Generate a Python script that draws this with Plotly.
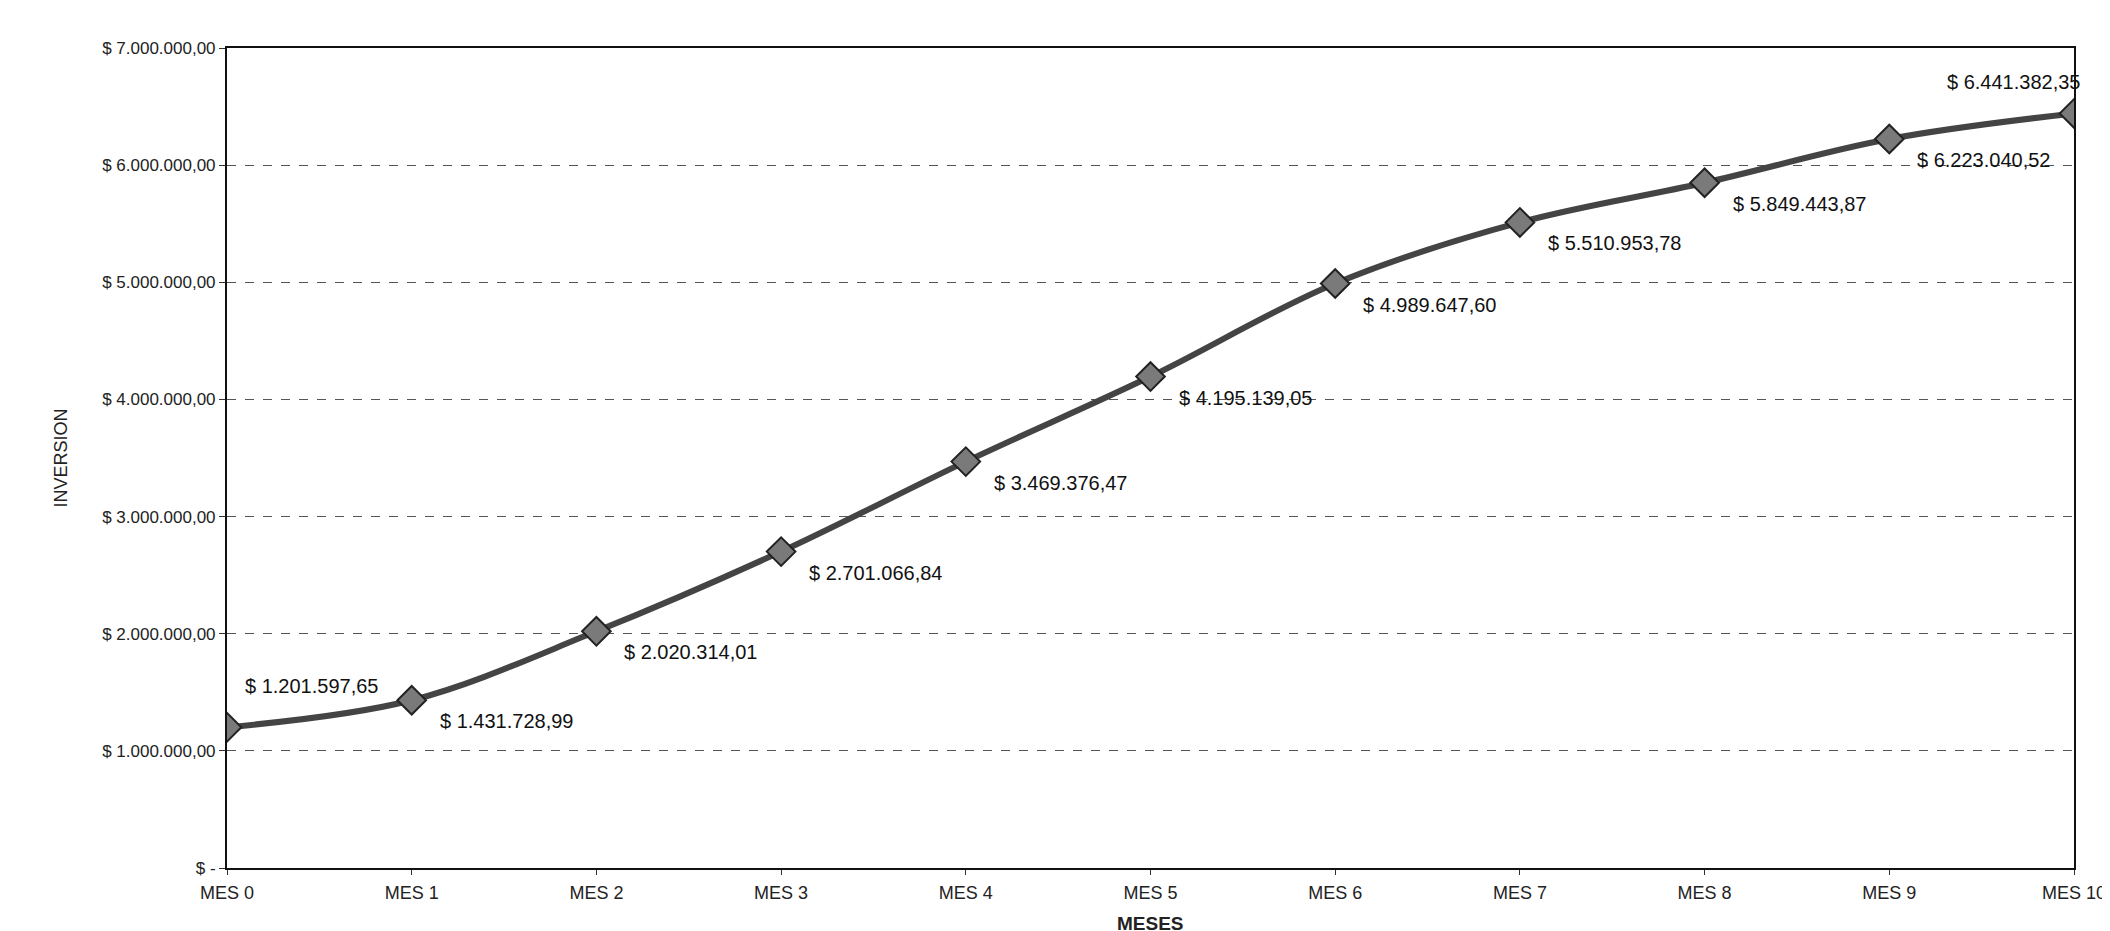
import plotly.graph_objects as go

meses = ["MES 0", "MES 1", "MES 2", "MES 3", "MES 4", "MES 5",
         "MES 6", "MES 7", "MES 8", "MES 9", "MES 10"]
inversion = [1201597.65, 1431728.99, 2020314.01, 2701066.84, 3469376.47, 4195139.05,
             4989647.60, 5510953.78, 5849443.87, 6223040.52, 6441382.35]
etiquetas = ["$ 1.201.597,65", "$ 1.431.728,99", "$ 2.020.314,01", "$ 2.701.066,84",
             "$ 3.469.376,47", "$ 4.195.139,05", "$ 4.989.647,60", "$ 5.510.953,78",
             "$ 5.849.443,87", "$ 6.223.040,52", "$ 6.441.382,35"]
y_ticks = [0, 1000000, 2000000, 3000000, 4000000, 5000000, 6000000, 7000000]
y_ticktext = ["$ -", "$ 1.000.000,00", "$ 2.000.000,00", "$ 3.000.000,00",
              "$ 4.000.000,00", "$ 5.000.000,00", "$ 6.000.000,00", "$ 7.000.000,00"]

x = list(range(len(meses)))

fig = go.Figure()
fig.add_trace(go.Scatter(
    x=x, y=inversion, mode="lines+markers", line_shape="spline",
    line=dict(color="#444444", width=6),
    marker=dict(symbol="diamond", size=22, color="#7a7a7a",
                line=dict(color="#222222", width=2)),
    showlegend=False, hoverinfo="skip",
))

# label placement per point (above-right for first, above-left for last)
anns = []
for i, (xv, yv, t) in enumerate(zip(x, inversion, etiquetas)):
    if i == 0:
        a = dict(xanchor="left", yanchor="bottom", xshift=16, yshift=28)
    elif i == len(x) - 1:
        a = dict(xanchor="right", yanchor="bottom", xshift=8, yshift=18)
    else:
        a = dict(xanchor="left", yanchor="top", xshift=26, yshift=-8)
    anns.append(dict(x=xv, y=yv, xref="x", yref="y", text=t, showarrow=False,
                     font=dict(family="Liberation Sans", size=20, color="#111"), **a))

anns.append(dict(xref="paper", yref="paper", x=0.5, y=-0.052, text="<b>MESES</b>",
                 showarrow=False, xanchor="center", yanchor="top",
                 font=dict(family="Liberation Sans", size=19, color="#222")))

fig.update_layout(
    width=2110, height=931,
    margin=dict(l=219, r=40, t=40, b=71),
    paper_bgcolor="white", plot_bgcolor="white",
    font=dict(family="Liberation Sans", color="#222"),
    annotations=anns,
    xaxis=dict(
        tickmode="array", tickvals=x, ticktext=meses, range=[0, 10],
        showgrid=False, showline=True, linecolor="#111", linewidth=2,
        ticks="outside", ticklen=5, tickcolor="#333",
        tickfont=dict(size=18), ticklabelstandoff=2,
        mirror=True, zeroline=False,
    ),
    yaxis=dict(
        tickmode="array", tickvals=y_ticks, ticktext=y_ticktext, range=[0, 7000000],
        showgrid=True, gridcolor="#555", gridwidth=1, griddash="dash",
        showline=True, linecolor="#111", linewidth=2, mirror=True,
        ticks="outside", ticklen=6, tickcolor="#333",
        tickfont=dict(size=17), zeroline=False,
        title=dict(text="INVERSION", font=dict(size=18), standoff=30),
    ),
)

fig.write_html("out.html")
